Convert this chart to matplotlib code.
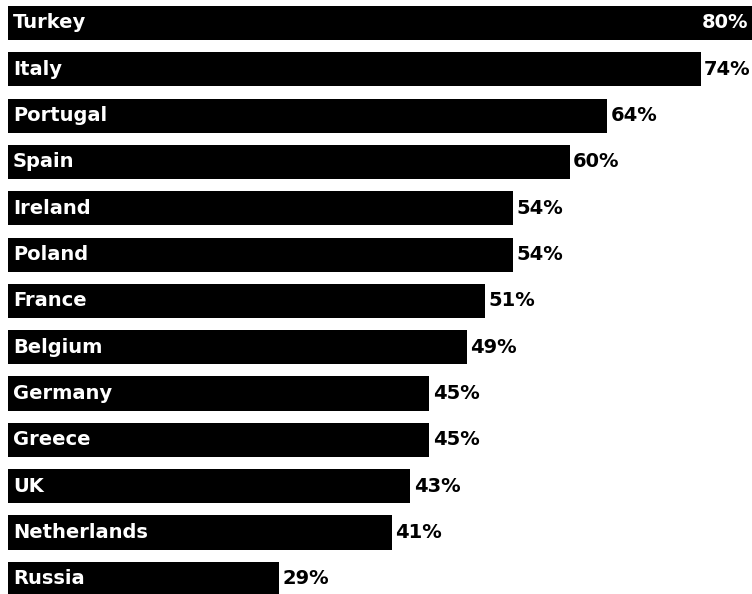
import matplotlib
matplotlib.use("Agg")
import matplotlib.pyplot as plt

countries = ["Turkey", "Italy", "Portugal", "Spain", "Ireland", "Poland", "France",
             "Belgium", "Germany", "Greece", "UK", "Netherlands", "Russia"]
values = [80, 74, 64, 60, 54, 54, 51, 49, 45, 45, 43, 41, 29]

W, H = 752, 594
fig = plt.figure(figsize=(W / 100, H / 100), dpi=100)
left = 8 / W
ax = fig.add_axes([left, 0, 1 - left, 1])
ax.set_xlim(0, (W - 8) / 9.36)
pitch = 46.33
ax.set_ylim((H - 23) / pitch, -23 / pitch)
ax.axis("off")

ys = list(range(len(countries)))
ax.barh(ys, values, height=0.74, color="black")

font = dict(family=["DejaVu Sans"], weight="bold", fontsize=14)
for y, c, v in zip(ys, countries, values):
    ax.annotate(c, (0, y), xytext=(3.5, 0), textcoords="offset points",
                ha="left", va="center", color="white", **font)
    if v >= 78:
        ax.annotate(f"{v}%", (ax.get_xlim()[1], y), xytext=(-2.5, 0), textcoords="offset points",
                    ha="right", va="center", color="white", **font)
    else:
        ax.annotate(f"{v}%", (v, y), xytext=(2.5, 0), textcoords="offset points",
                    ha="left", va="center", color="black", **font)

fig.savefig("out.png", dpi=100)
